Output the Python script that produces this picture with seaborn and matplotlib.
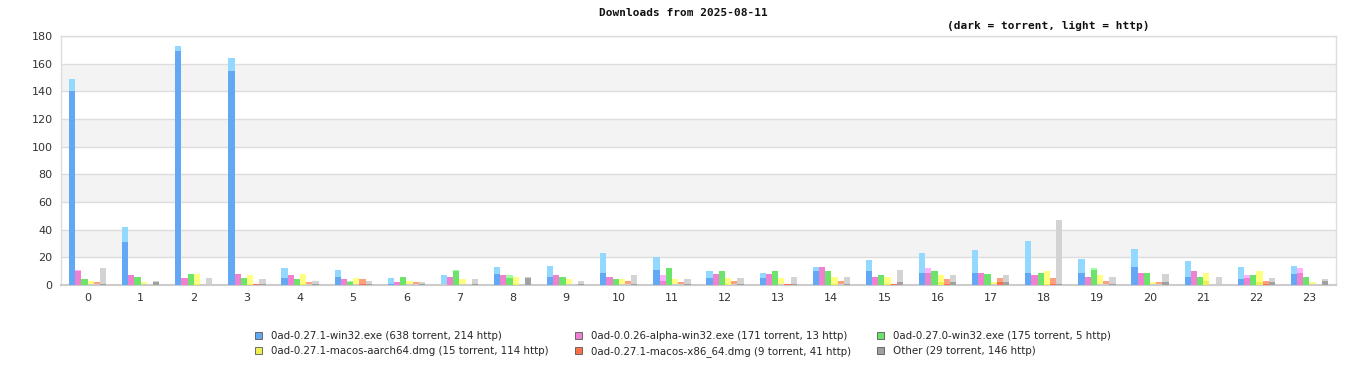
import pandas as pd
import matplotlib
matplotlib.use("Agg")
import matplotlib.pyplot as plt
import seaborn as sns
from matplotlib.patches import Patch

hours = list(range(24))

files = [
    "0ad-0.27.1-win32.exe",
    "0ad-0.0.26-alpha-win32.exe",
    "0ad-0.27.0-win32.exe",
    "0ad-0.27.1-macos-aarch64.dmg",
    "0ad-0.27.1-macos-x86_64.dmg",
    "Other",
]

win32_torrent = [140, 31, 169, 155, 5, 6, 1, 0, 8, 6, 9, 11, 5, 5, 10, 10, 9, 9, 9, 9, 13, 6, 4, 8]
win32_http = [9, 11, 4, 9, 7, 5, 4, 7, 5, 8, 14, 9, 5, 4, 3, 8, 14, 16, 23, 10, 13, 11, 9, 6]

alpha_torrent = [10, 7, 5, 8, 7, 4, 2, 6, 7, 7, 6, 3, 8, 8, 13, 6, 9, 9, 7, 6, 9, 10, 5, 9]
alpha_http = [1, 0, 0, 0, 0, 0, 0, 0, 0, 0, 0, 4, 0, 0, 0, 0, 3, 0, 0, 0, 0, 0, 2, 3]

w270_torrent = [4, 6, 8, 5, 4, 2, 6, 10, 5, 6, 4, 12, 10, 10, 10, 7, 10, 8, 9, 11, 9, 6, 7, 6]
w270_http = [0, 0, 0, 0, 0, 1, 0, 1, 2, 0, 0, 0, 0, 0, 0, 0, 0, 0, 0, 1, 0, 0, 0, 0]

arm_torrent = [0, 0, 1, 1, 1, 0, 0, 0, 1, 0, 0, 0, 1, 0, 1, 1, 2, 0, 1, 0, 0, 3, 2, 0]
arm_http = [3, 2, 7, 6, 7, 5, 3, 4, 5, 4, 4, 4, 4, 5, 5, 5, 5, 2, 9, 7, 2, 6, 8, 2]

x86_torrent = [0, 0, 0, 1, 0, 1, 0, 0, 0, 0, 0, 0, 0, 1, 0, 1, 1, 2, 1, 0, 0, 0, 1, 0]
x86_http = [2, 0, 0, 0, 2, 3, 2, 1, 1, 0, 3, 2, 3, 0, 3, 0, 3, 3, 4, 3, 2, 1, 2, 1]

other_torrent = [1, 2, 0, 1, 1, 1, 1, 1, 5, 1, 1, 1, 1, 1, 1, 2, 2, 2, 1, 1, 2, 0, 2, 3]
other_http = [11, 1, 5, 3, 2, 2, 1, 3, 1, 2, 6, 3, 4, 5, 5, 9, 5, 5, 46, 5, 6, 6, 3, 1]

torrent_sets = [win32_torrent, alpha_torrent, w270_torrent, arm_torrent, x86_torrent, other_torrent]
http_sets = [win32_http, alpha_http, w270_http, arm_http, x86_http, other_http]

dark_colors = ["#62a8f5", "#f080d0", "#6ce46c", "#eeee55", "#ff7048", "#a0a0a0"]
light_colors = ["#92d8ff", "#ffb0ff", "#a0ffa0", "#ffff80", "#ffa080", "#d3d3d3"]

rows = []
for f, t_list, h_list in zip(files, torrent_sets, http_sets):
    for hr, t, h in zip(hours, t_list, h_list):
        rows.append({"hour": hr, "file": f, "torrent": t, "http": h, "total": t + h})
df = pd.DataFrame(rows)

sns.set_style("white")
plt.rcParams["font.family"] = ["DejaVu Sans"]

fig = plt.figure(figsize=(13.66, 3.8), dpi=100)
ax = fig.add_axes([61 / 1366, 1 - 285 / 380, (1336 - 61) / 1366, (285 - 36) / 380])

# alternating bands + grid
for lo in range(20, 180, 40):
    ax.axhspan(lo, lo + 20, color="#f3f3f3", zorder=0, lw=0)
for y in range(20, 181, 20):
    ax.axhline(y, color="#dddddd", lw=1, zorder=0.5)

# light (total) bars behind, dark (torrent) bars in front
sns.barplot(data=df, x="hour", y="total", hue="file", hue_order=files,
            palette=dict(zip(files, light_colors)), errorbar=None, width=0.7,
            saturation=1, legend=False, ax=ax, zorder=2, linewidth=0, edgecolor="none")
sns.barplot(data=df, x="hour", y="torrent", hue="file", hue_order=files,
            palette=dict(zip(files, dark_colors)), errorbar=None, width=0.7,
            saturation=1, legend=False, ax=ax, zorder=3, linewidth=0, edgecolor="none")

ax.set_xlim(-0.5, 23.5)
ax.set_ylim(0, 180)
ax.set_yticks(range(0, 181, 20))
ax.set_xlabel("")
ax.set_ylabel("")
ax.tick_params(axis="both", labelsize=8, colors="#333333", length=0, pad=6)
for s in ax.spines.values():
    s.set_color("#dddddd")
    s.set_linewidth(1)
ax.spines["bottom"].set_color("#cccccc")
ax.spines["bottom"].set_linewidth(1.5)

fig.text(0.5, 1 - 13 / 380, "Downloads from 2025-08-11", ha="center", va="center",
         fontsize=8, family="DejaVu Sans Mono", weight="bold", color="#111111")
fig.text(1048 / 1366, 1 - 26 / 380, "(dark = torrent, light = http)", ha="center",
         va="center", fontsize=8, family="DejaVu Sans Mono", weight="bold", color="#111111")

labels = [
    "0ad-0.27.1-win32.exe (638 torrent, 214 http)",
    "0ad-0.0.26-alpha-win32.exe (171 torrent, 13 http)",
    "0ad-0.27.0-win32.exe (175 torrent, 5 http)",
    "0ad-0.27.1-macos-aarch64.dmg (15 torrent, 114 http)",
    "0ad-0.27.1-macos-x86_64.dmg (9 torrent, 41 http)",
    "Other (29 torrent, 146 http)",
]
handles = [Patch(facecolor=c, edgecolor="#555555", lw=0.6) for c in dark_colors]
order = [0, 3, 1, 4, 2, 5]
fig.legend([handles[i] for i in order], [labels[i] for i in order], ncol=3,
           loc="center", bbox_to_anchor=(0.5, 1 - 344 / 380), frameon=False,
           fontsize=7.4, handlelength=0.7, handleheight=0.7, handletextpad=0.9,
           columnspacing=2.5, labelspacing=0.55)

fig.savefig("out.png", dpi=100)
